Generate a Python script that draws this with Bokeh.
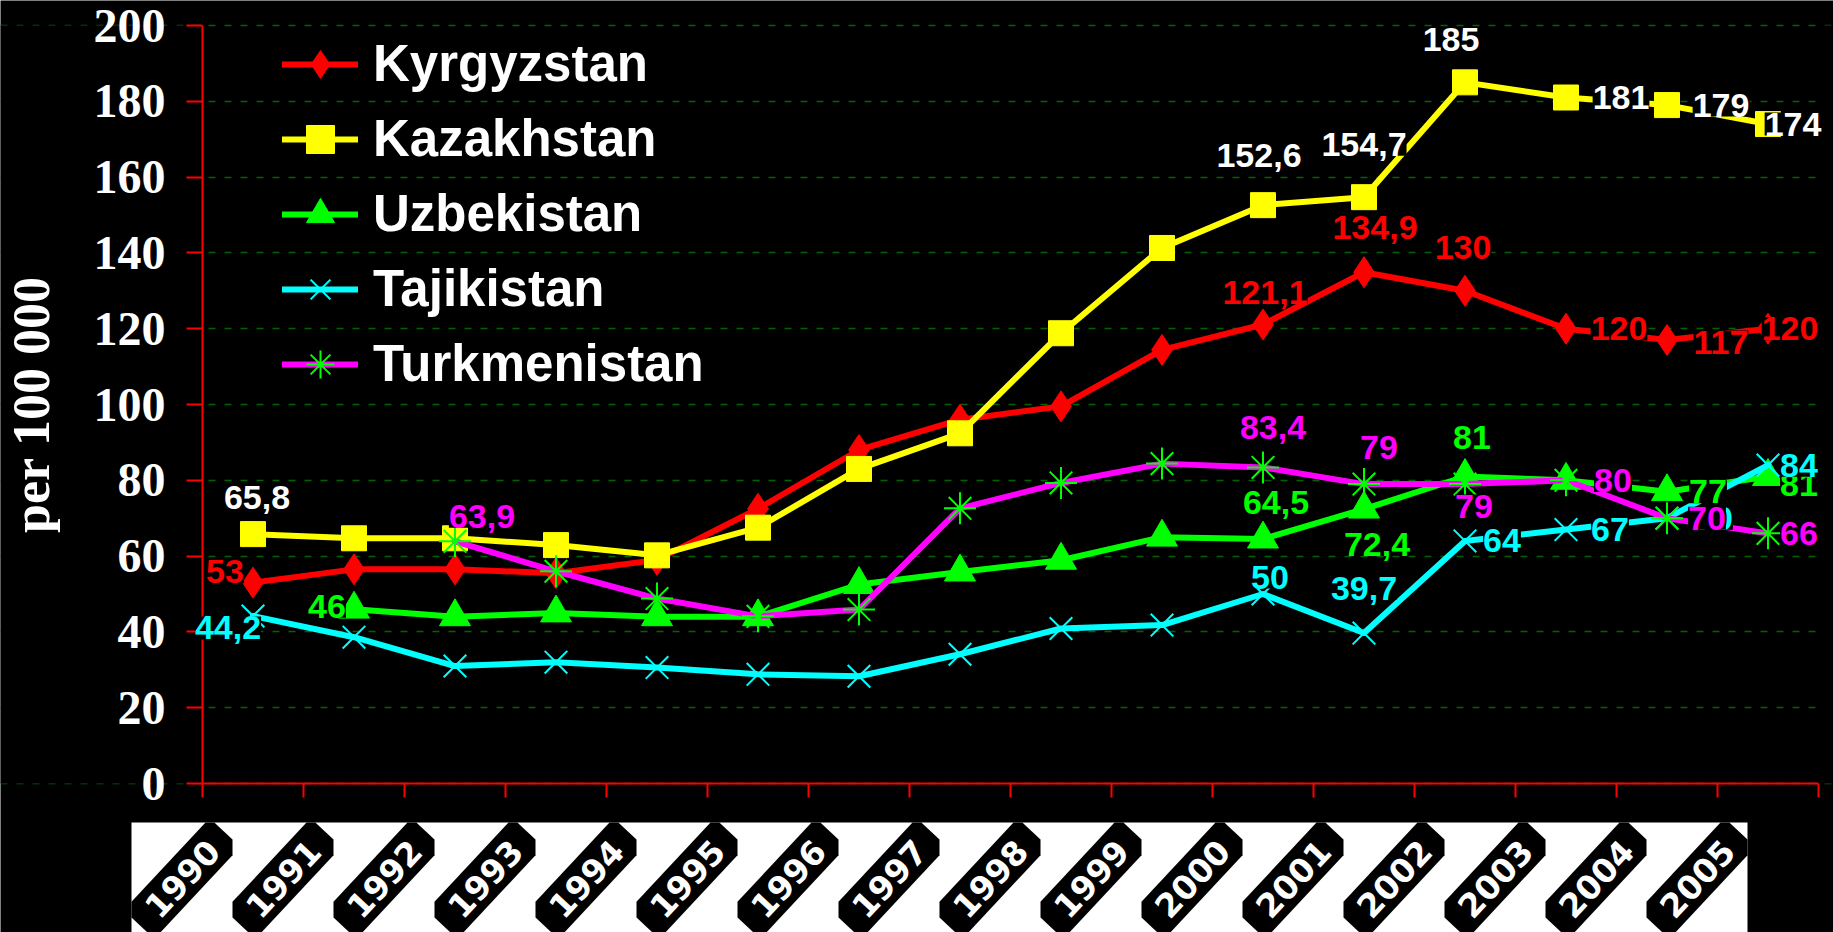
import math
from bokeh.plotting import figure
from bokeh.models import (ColumnDataSource, Range1d, FixedTicker, LabelSet,
                          Legend, LegendItem)
from bokeh.core.properties import value
from bokeh.embed import file_html
from bokeh.resources import INLINE

NaN = float("nan")

# ---------------- data ----------------
years = ["1990", "1991", "1992", "1993", "1994", "1995", "1996", "1997",
         "1998", "1999", "2000", "2001", "2002", "2003", "2004", "2005"]

kyrgyzstan = [53, 56.5, 56.5, 55.5, 59, 72.5, 88, 96, 99.5, 114.4,
              121.1, 134.9, 130, 120, 117, 120]
kazakhstan = [65.8, 64.7, 64.7, 62.9, 60.2, 67.5, 83, 92.4, 118.8, 141.3,
              152.6, 154.7, 185, 181, 179, 174]
uzbekistan = [NaN, 46, 44, 45, 44, 44, 52.5, 55.8, 58.9, 65,
              64.5, 72.4, 81, 80, 77, 81]
tajikistan = [44.2, 38.6, 31, 32, 30.6, 28.8, 28.3, 34.1, 40.9, 41.8,
              50, 39.7, 64, 67, 70, 84]
turkmenistan = [NaN, NaN, 63.9, 56, 48.8, 44.1, 45.9, 72.6, 79.3, 84.4,
                83.4, 79, 79, 80, 70, 66]

# indices of the points that carry a value label
kyrgyzstan_labelled = [0, 10, 11, 12, 13, 14, 15]
kazakhstan_labelled = [0, 10, 11, 12, 13, 14, 15]
uzbekistan_labelled = [1, 10, 11, 12, 13, 14, 15]
tajikistan_labelled = [0, 10, 11, 12, 13, 14, 15]
turkmenistan_labelled = [2, 10, 11, 12, 13, 14, 15]

y_ticks = [0, 20, 40, 60, 80, 100, 120, 140, 160, 180, 200]

# ---------------- layout constants (page pixels) ----------------
W, H = 1833, 932
PAGE_L, PAGE_T = 0, 0
PAGE_R, PAGE_B = PAGE_L + W, PAGE_T + H
AXIS_X = 202          # page x of the value axis
AXIS_Y = 783          # page y of the year axis
CELL = 101            # px per year
PXU = 3.79            # px per unit of the value axis
N = len(years)
SHIFT = 71 / CELL     # year-label cells sit left of the ticks
BAND_TOP = 822        # page y of the top of the white label band
LBL_Y = 878           # page y of the year-label centres
LEG_X, LEG_BOTTOM = 282, 401   # legend left edge / bottom edge (page px)

# label placement offsets (screen px, dy up) per labelled point
kyr_off = [(-28, 11), (2, 32), (11, 45), (-2, 43), (53, 0), (54, -2), (22, 0)]
kaz_off = [(4, 37), (-4, 50), (0, 53), (-14, 43), (55, 0), (54, 0), (25, 0)]
uzb_off = [(-27, 3), (13, 37), (13, -35), (7, 39), (47, 0), (41, 0), (31, -8)]
taj_off = [(-25, -12), (7, 17), (0, 45), (37, 0), (44, 0), (47, 0), (31, 0)]
tur_off = [(27, 25), (10, 40), (15, 37), (9, -22), (47, 0), (40, 0), (31, 0)]

series = [
    dict(name="Kyrgyzstan", vals=kyrgyzstan, idx=kyrgyzstan_labelled, off=kyr_off,
         color="#FF0000", mcolor="#FF0000", marker="diamond", size=31, mlw=1,
         lcolor="#FF0000"),
    dict(name="Kazakhstan", vals=kazakhstan, idx=kazakhstan_labelled, off=kaz_off,
         color="#FFFF00", mcolor="#FFFF00", marker="square", size=25, mlw=1,
         lcolor="#FFFFFF"),
    dict(name="Uzbekistan", vals=uzbekistan, idx=uzbekistan_labelled, off=uzb_off,
         color="#00FF00", mcolor="#00FF00", marker="triangle", size=31, mlw=1,
         lcolor="#00FF00"),
    dict(name="Tajikistan", vals=tajikistan, idx=tajikistan_labelled, off=taj_off,
         color="#00FFFF", mcolor="#00FFFF", marker="x", size=32, mlw=2,
         lcolor="#00FFFF"),
    dict(name="Turkmenistan", vals=turkmenistan, idx=turkmenistan_labelled, off=tur_off,
         color="#FF00FF", mcolor="#00FF00", marker="asterisk", size=32, mlw=2,
         lcolor="#FF00FF"),
]


def fmt(v):
    return ("%g" % v).replace(".", ",")


def dx(px):
    return px / CELL


def ypx(page_y):
    return (AXIS_Y - page_y) / PXU


X_MIN, X_MAX = dx(PAGE_L - AXIS_X), dx(PAGE_R - AXIS_X)

p = figure(width=W, height=H,
           x_range=Range1d(X_MIN, X_MAX),
           y_range=Range1d(ypx(PAGE_B), ypx(PAGE_T)),
           output_backend="svg", toolbar_location=None, min_border=0,
           background_fill_color="black", border_fill_color="black",
           outline_line_color=None)

# axes, pinned to the origin
p.xaxis.fixed_location = 0
p.xaxis.ticker = FixedTicker(ticks=list(range(N + 1)))
p.xaxis.bounds = (0, N)
p.xaxis.axis_line_color = "#FF0000"
p.xaxis.axis_line_width = 2
p.xaxis.major_tick_line_color = "#FF0000"
p.xaxis.major_tick_line_width = 2
p.xaxis.major_tick_out = 14
p.xaxis.major_tick_in = 0
p.xaxis.minor_tick_line_color = None
p.xaxis.major_label_overrides = {i: "" for i in range(N + 1)}

p.yaxis.fixed_location = 0
p.yaxis.ticker = FixedTicker(ticks=y_ticks)
p.yaxis.bounds = (0, 200)
p.yaxis.axis_line_color = "#FF0000"
p.yaxis.axis_line_width = 2
p.yaxis.major_tick_line_color = "#FF0000"
p.yaxis.major_tick_line_width = 2
p.yaxis.major_tick_out = 16
p.yaxis.major_tick_in = 0
p.yaxis.minor_tick_line_color = None
p.yaxis.major_label_text_font = "Liberation Serif"
p.yaxis.major_label_text_font_style = "bold"
p.yaxis.major_label_text_font_size = "48px"
p.yaxis.major_label_text_color = "white"
p.yaxis.major_label_standoff = 21
p.yaxis.axis_label = "per 100 000"
p.yaxis.axis_label_text_font = "Liberation Serif"
p.yaxis.axis_label_text_font_style = "bold"
p.yaxis.axis_label_text_font_size = "52px"
p.yaxis.axis_label_text_color = "white"
p.yaxis.axis_label_standoff = 31

p.xgrid.visible = False
p.ygrid.grid_line_color = "#006400"
p.ygrid.grid_line_dash = "7 9"
p.ygrid.grid_line_width = 1.5

# keep grid lines between the value axis and the end of the year axis
p.quad(left=[X_MIN, N], right=[0, X_MAX], bottom=[0, 0], top=[200, 200],
       fill_color="black", line_color=None)

xs = [i + 0.5 for i in range(N)]
items = []
for s in series:
    src = ColumnDataSource(dict(x=xs, y=s["vals"]))
    lr = p.line("x", "y", source=src, line_color=s["color"], line_width=6,
                line_cap="round", line_join="round")
    sr = p.scatter("x", "y", source=src, marker=s["marker"], size=s["size"],
                   fill_color=s["mcolor"], line_color=s["mcolor"],
                   line_width=s["mlw"])
    items.append(LegendItem(label=s["name"], renderers=[lr, sr]))

for s in series:
    lsrc = ColumnDataSource(dict(
        x=[i + 0.5 for i in s["idx"]],
        y=[s["vals"][i] for i in s["idx"]],
        text=[fmt(s["vals"][i]) for i in s["idx"]],
        dx=[o[0] for o in s["off"]],
        dy=[o[1] for o in s["off"]],
    ))
    p.add_layout(LabelSet(x="x", y="y", text="text", x_offset="dx", y_offset="dy",
                          source=lsrc, text_align="center", text_baseline="middle",
                          text_font=value("Liberation Sans"), text_font_style="bold",
                          text_font_size=value("34px"), text_color=s["lcolor"],
                          background_fill_color="black"))

legend = Legend(items=items, location=(LEG_X - PAGE_L, PAGE_B - LEG_BOTTOM),
                orientation="vertical",
                glyph_width=76, glyph_height=70, label_height=75, spacing=0,
                padding=0, margin=0, label_standoff=15,
                border_line_color=None, background_fill_alpha=0,
                label_text_font="Liberation Sans", label_text_font_style="bold",
                label_text_font_size="51px", label_text_color="white")
p.add_layout(legend)

# ---------------- year label band below the axis ----------------
band_l = -SHIFT
band_r = N - SHIFT
p.quad(left=band_l, right=band_r, bottom=ypx(PAGE_B), top=ypx(BAND_TOP),
       fill_color="white", line_color=None)

theta = math.radians(47)
A, B = 63, 21                      # half length / half thickness of label boxes (px)


def clip(pts, inside, inter):
    out = []
    for k in range(len(pts)):
        cur, prev = pts[k], pts[k - 1]
        if inside(cur):
            if not inside(prev):
                out.append(inter(prev, cur))
            out.append(cur)
        elif inside(prev):
            out.append(inter(prev, cur))
    return out


def ix(x0):
    return lambda a, b: (x0, a[1] + (b[1] - a[1]) * (x0 - a[0]) / (b[0] - a[0]))


def iy(y0):
    return lambda a, b: (a[0] + (b[0] - a[0]) * (y0 - a[1]) / (b[1] - a[1]), y0)


ux, uy = math.cos(theta), math.sin(theta)
nx, ny = -uy, ux
pxs, pys, tx, ty = [], [], [], []
cy_px = AXIS_Y - LBL_Y                     # px above the axis (negative)
bot_px = AXIS_Y - PAGE_B
top_px = AXIS_Y - BAND_TOP
for i in range(N):
    x0 = (i - SHIFT) * CELL                # px right of the value axis
    x1 = x0 + CELL
    cx = x0 + CELL / 2
    pts = [(cx + sa * A * ux + sb * B * nx, cy_px + sa * A * uy + sb * B * ny)
           for sa, sb in [(1, 1), (-1, 1), (-1, -1), (1, -1)]]
    pts = clip(pts, lambda q: q[0] >= x0, ix(x0))
    pts = clip(pts, lambda q: q[0] <= x1, ix(x1))
    pts = clip(pts, lambda q: q[1] >= bot_px, iy(bot_px))
    pts = clip(pts, lambda q: q[1] <= top_px, iy(top_px))
    pxs.append([q[0] / CELL for q in pts])
    pys.append([q[1] / PXU for q in pts])
    tx.append(i + 0.5 - SHIFT)
    ty.append(cy_px / PXU)

p.patches(pxs, pys, fill_color="black", line_color=None)
p.text(x=tx, y=ty, text=years, angle=theta, text_align="center",
       text_baseline="middle", text_color="white",
       text_font=value("DejaVu Sans"), text_font_style="bold",
       text_font_size=value("33px"))

open("out.html", "w").write(file_html(p, INLINE))
